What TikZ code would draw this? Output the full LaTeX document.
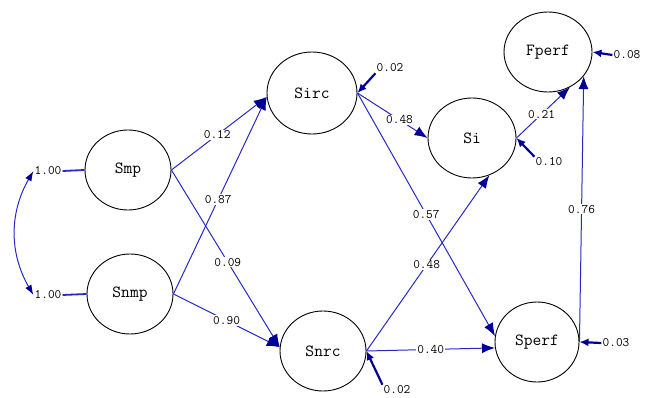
\documentclass[tikz,border=0pt]{standalone}
\usepackage{tikz}
\usetikzlibrary{arrows.meta}
\usetikzlibrary{shapes.geometric}

\definecolor{pathblue}{RGB}{40,40,200}
\definecolor{headblue}{RGB}{0,0,150}

\begin{document}
\begin{tikzpicture}[x=1pt,y=-1pt,latent/.style={draw,ellipse,line width=0.9pt,minimum width=86pt,minimum height=80pt,inner sep=0pt,font=\ttfamily\fontsize{17}{17}\selectfont},coef/.style={fill=white,inner sep=1pt,font=\ttfamily\fontsize{13}{13}\selectfont},errlabel/.style={inner sep=1pt,font=\ttfamily\fontsize{13}{13}\selectfont},effect/.style={draw=pathblue,line width=1pt,-{Latex[length=13pt,width=10pt,color=headblue]}},residual/.style={draw=headblue,line width=2.2pt,-{Latex[length=9pt,width=8pt]}},varline/.style={draw=pathblue,line width=1.8pt}]
  \useasboundingbox (0,0) rectangle (650,398);
  %left
  \node[latent,name=smp,at={(128,170)}]{Smp};
  \node[latent,name=snmp,at={(130,294)}]{Snmp};
  \node[errlabel,name=v-smp,at={(48,171)}]{1.00};
  \node[errlabel,name=v-snmp,at={(48,295)}]{1.00};
  \draw[varline] (v-smp.east) -- (smp.west);
  \draw[varline] (v-snmp.east) -- (snmp.west);
  \draw[draw=pathblue,line width=1pt,{Latex[length=10pt,width=7pt,color=headblue]}-{Latex[length=10pt,width=7pt,color=headblue]}] (v-smp.west) to[bend right=30] (v-snmp.west);
  %middle
  \node[latent,name=sirc,at={(312,93)},minimum width=90pt,minimum height=82pt]{Sirc};
  \node[latent,name=snrc,at={(323,351)}]{Snrc};
  \draw[effect] (smp.east) -- node[coef,pos=0.48]{0.12} (sirc.185);
  \draw[effect] (smp.east) -- node[coef,pos=0.52]{0.09} (snrc.175);
  \draw[effect] (snmp.east) -- node[coef,pos=0.48]{0.87} (sirc.185);
  \draw[effect] (snmp.east) -- node[coef,pos=0.5]{0.90} (snrc.175);
  \node[errlabel,name=e-sirc,at={(390,68)}]{0.02};
  \draw[residual] (e-sirc.south west) -- (sirc.east);
  \node[errlabel,name=e-snrc,at={(397,390)}]{0.02};
  \draw[residual] (e-snrc.north west) -- (snrc.east);
  %right
  \node[latent,name=si,at={(472,138)},minimum width=88pt]{Si};
  \node[latent,name=fperf,at={(548,52)},minimum width=88pt]{Fperf};
  \node[latent,name=sperf,at={(537,342)},minimum width=84pt]{Sperf};
  \draw[effect] (sirc.east) -- node[coef,pos=0.6]{0.48} (si.west);
  \draw[effect] (sirc.east) -- node[coef,pos=0.5]{0.57} (sperf.172);
  \draw[effect] (snrc.east) -- node[coef,pos=0.49]{0.48} (si.-65);
  \draw[effect] (snrc.east) -- node[coef,pos=0.5]{0.40} (sperf.188);
  \draw[effect] (si.east) -- node[coef,pos=0.47]{0.21} (fperf.-58);
  \draw[effect] (sperf.east) -- node[coef,pos=0.5]{0.76} (fperf.-34);
  \node[errlabel,name=e-si,at={(549,162)}]{0.10};
  \draw[residual] (e-si.north west) -- (si.east);
  \node[errlabel,name=e-fperf,at={(627,55)}]{0.08};
  \draw[residual] (e-fperf.west) -- (fperf.east);
  \node[errlabel,name=e-sperf,at={(616,343)}]{0.03};
  \draw[residual] (e-sperf.west) -- (sperf.east);
\end{tikzpicture}
\end{document}
